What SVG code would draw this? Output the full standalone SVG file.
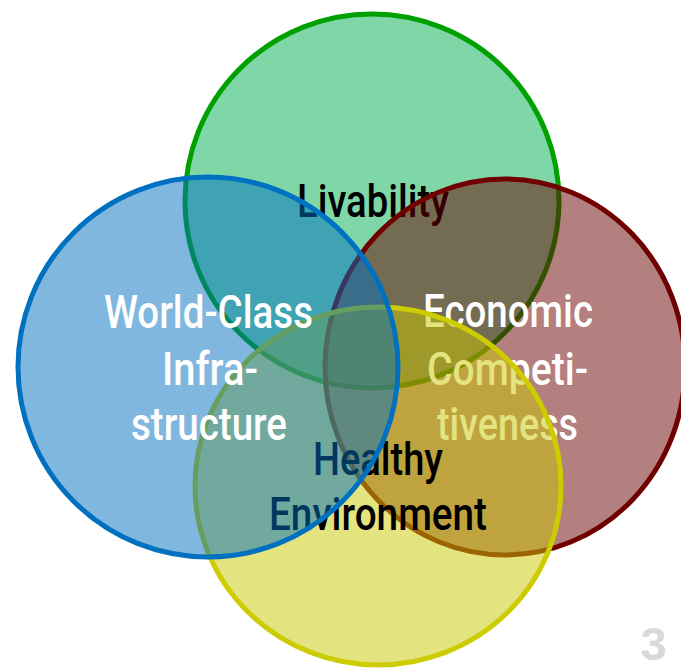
<svg xmlns="http://www.w3.org/2000/svg" width="681" height="669" viewBox="0 0 681 669">
<style>
.c{stroke-width:5;fill-opacity:0.5}
.t{font-family:Roboto,"Liberation Sans",Arial,sans-serif;font-weight:500;font-size:46px}
.w{fill:#ffffff}
.k{fill:#000000}
</style>
<rect width="681" height="669" fill="#ffffff"/>
<g id="livability">
<circle class="c" cx="372" cy="201" r="187" fill="#00B050" stroke="#00A000"/>
<text class="t k" x="297" y="217" textLength="152" lengthAdjust="spacingAndGlyphs">Livability</text>
</g>
<g id="economic">
<ellipse class="c" cx="505" cy="367" rx="180" ry="188" fill="#690000" stroke="#700000"/>
<text class="t w" x="423" y="327" textLength="170" lengthAdjust="spacingAndGlyphs">Economic</text>
<text class="t w" x="427" y="385" textLength="161" lengthAdjust="spacingAndGlyphs">Competi-</text>
<text class="t w" x="437" y="440" textLength="141" lengthAdjust="spacingAndGlyphs">tiveness</text>
</g>
<g id="healthy">
<ellipse class="c" cx="378" cy="486" rx="183" ry="179" fill="#C8C800" stroke="#CCCC00"/>
<text class="t k" x="313" y="475" textLength="130" lengthAdjust="spacingAndGlyphs">Healthy</text>
<text class="t k" x="269" y="530" textLength="218" lengthAdjust="spacingAndGlyphs">Environment</text>
</g>
<g id="infrastructure">
<circle class="c" cx="208" cy="367" r="190" fill="#0070C0" stroke="#0070C0"/>
<text class="t w" x="104" y="328" textLength="209" lengthAdjust="spacingAndGlyphs">World-Class</text>
<text class="t w" x="162" y="385" textLength="96" lengthAdjust="spacingAndGlyphs">Infra-</text>
<text class="t w" x="131" y="440" textLength="156" lengthAdjust="spacingAndGlyphs">structure</text>
</g>
<g id="connectors"></g>
<text x="653.5" y="660" text-anchor="middle" font-family="Liberation Sans, Arial, sans-serif" font-weight="bold" font-size="47" fill="#D9D9D9">3</text>
</svg>
